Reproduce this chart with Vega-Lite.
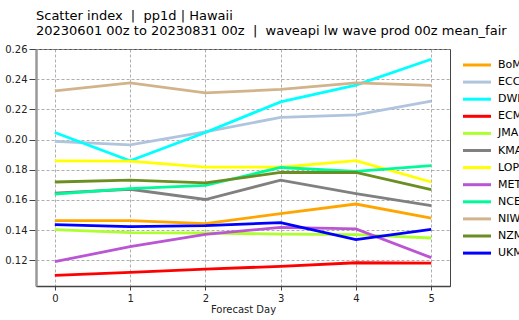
{
  "$schema": "https://vega.github.io/schema/vega-lite/v6.json",
  "autosize": {"type": "none"},
  "padding": {"left": 36, "top": 49, "right": 69, "bottom": 34},
  "width": 414,
  "height": 237,
  "background": "white",
  "title": {
    "text": ["Scatter index \u00a0|\u00a0 pp1d | Hawaii", "20230601 00z to 20230831 00z \u00a0|\u00a0 waveapi lw wave prod 00z mean_fair"],
    "anchor": "start",
    "frame": "group",
    "font": "DejaVu Sans",
    "fontSize": 13,
    "fontWeight": "normal",
    "color": "black",
    "lineHeight": 15,
    "offset": 6
  },
  "config": {
    "view": {"stroke": "#444", "strokeWidth": 1},
    "axis": {
      "labelFont": "DejaVu Sans",
      "titleFont": "DejaVu Sans",
      "labelFontSize": 10,
      "titleFontSize": 10,
      "labelColor": "#222",
      "titleColor": "#222",
      "titleFontWeight": "normal",
      "grid": true,
      "gridColor": "#999",
      "gridDash": [3, 2],
      "gridWidth": 0.8,
      "tickColor": "#444",
      "domainColor": "#444"
    }
  },
  "data": {
    "values": [
      {"model": "BoM", "day": 0, "si": 0.1463}, {"model": "BoM", "day": 1, "si": 0.1463}, {"model": "BoM", "day": 2, "si": 0.1443}, {"model": "BoM", "day": 3, "si": 0.151}, {"model": "BoM", "day": 4, "si": 0.1573}, {"model": "BoM", "day": 5, "si": 0.148},
      {"model": "ECCC", "day": 0, "si": 0.1988}, {"model": "ECCC", "day": 1, "si": 0.1965}, {"model": "ECCC", "day": 2, "si": 0.2051}, {"model": "ECCC", "day": 3, "si": 0.2147}, {"model": "ECCC", "day": 4, "si": 0.2164}, {"model": "ECCC", "day": 5, "si": 0.2255},
      {"model": "DWD", "day": 0, "si": 0.2047}, {"model": "DWD", "day": 1, "si": 0.1859}, {"model": "DWD", "day": 2, "si": 0.2047}, {"model": "DWD", "day": 3, "si": 0.225}, {"model": "DWD", "day": 4, "si": 0.2361}, {"model": "DWD", "day": 5, "si": 0.2532},
      {"model": "ECMWF", "day": 0, "si": 0.110}, {"model": "ECMWF", "day": 1, "si": 0.112}, {"model": "ECMWF", "day": 2, "si": 0.1142}, {"model": "ECMWF", "day": 3, "si": 0.116}, {"model": "ECMWF", "day": 4, "si": 0.1184}, {"model": "ECMWF", "day": 5, "si": 0.1182},
      {"model": "JMA", "day": 0, "si": 0.1403}, {"model": "JMA", "day": 1, "si": 0.1383}, {"model": "JMA", "day": 2, "si": 0.1381}, {"model": "JMA", "day": 3, "si": 0.1374}, {"model": "JMA", "day": 4, "si": 0.137}, {"model": "JMA", "day": 5, "si": 0.1348},
      {"model": "KMA", "day": 0, "si": 0.1645}, {"model": "KMA", "day": 1, "si": 0.1671}, {"model": "KMA", "day": 2, "si": 0.1603}, {"model": "KMA", "day": 3, "si": 0.1731}, {"model": "KMA", "day": 4, "si": 0.1642}, {"model": "KMA", "day": 5, "si": 0.1563},
      {"model": "LOPS", "day": 0, "si": 0.1859}, {"model": "LOPS", "day": 1, "si": 0.1857}, {"model": "LOPS", "day": 2, "si": 0.1817}, {"model": "LOPS", "day": 3, "si": 0.1818}, {"model": "LOPS", "day": 4, "si": 0.1861}, {"model": "LOPS", "day": 5, "si": 0.1719},
      {"model": "METFR", "day": 0, "si": 0.1191}, {"model": "METFR", "day": 1, "si": 0.1291}, {"model": "METFR", "day": 2, "si": 0.1372}, {"model": "METFR", "day": 3, "si": 0.1419}, {"model": "METFR", "day": 4, "si": 0.1408}, {"model": "METFR", "day": 5, "si": 0.1218},
      {"model": "NCEP", "day": 0, "si": 0.1638}, {"model": "NCEP", "day": 1, "si": 0.1675}, {"model": "NCEP", "day": 2, "si": 0.1697}, {"model": "NCEP", "day": 3, "si": 0.1815}, {"model": "NCEP", "day": 4, "si": 0.179}, {"model": "NCEP", "day": 5, "si": 0.1828},
      {"model": "NIWA", "day": 0, "si": 0.2323}, {"model": "NIWA", "day": 1, "si": 0.2376}, {"model": "NIWA", "day": 2, "si": 0.231}, {"model": "NIWA", "day": 3, "si": 0.2332}, {"model": "NIWA", "day": 4, "si": 0.2376}, {"model": "NIWA", "day": 5, "si": 0.2359},
      {"model": "NZMS", "day": 0, "si": 0.1719}, {"model": "NZMS", "day": 1, "si": 0.1731}, {"model": "NZMS", "day": 2, "si": 0.1713}, {"model": "NZMS", "day": 3, "si": 0.1782}, {"model": "NZMS", "day": 4, "si": 0.1782}, {"model": "NZMS", "day": 5, "si": 0.1669},
      {"model": "UKMO", "day": 0, "si": 0.1437}, {"model": "UKMO", "day": 1, "si": 0.1423}, {"model": "UKMO", "day": 2, "si": 0.143}, {"model": "UKMO", "day": 3, "si": 0.145}, {"model": "UKMO", "day": 4, "si": 0.1337}, {"model": "UKMO", "day": 5, "si": 0.1405}
    ]
  },
  "mark": {"type": "line", "strokeWidth": 2.8, "clip": true},
  "encoding": {
    "x": {
      "field": "day", "type": "quantitative", "title": "Forecast Day",
      "scale": {"domain": [-0.25, 5.25], "nice": false, "zero": false},
      "axis": {"values": [0, 1, 2, 3, 4, 5], "format": "d", "tickSize": 4, "labelPadding": 3, "titleY": 18, "domainWidth": 1.5}
    },
    "y": {
      "field": "si", "type": "quantitative", "title": null,
      "scale": {"domain": [0.103, 0.26], "nice": false, "zero": false},
      "axis": {"values": [0.12, 0.14, 0.16, 0.18, 0.2, 0.22, 0.24, 0.26], "format": ".2f", "tickSize": 7, "labelPadding": 2, "domainColor": "#999", "domainWidth": 2.5}
    },
    "color": {
      "field": "model", "type": "nominal", "title": null,
      "scale": {
        "domain": ["BoM", "ECCC", "DWD", "ECMWF", "JMA", "KMA", "LOPS", "METFR", "NCEP", "NIWA", "NZMS", "UKMO"],
        "range": ["#FFA500", "#B0C4DE", "#00FFFF", "#FF0000", "#ADFF2F", "#808080", "#FFFF00", "#BA55D3", "#00FA9A", "#D2B48C", "#6B8E23", "#0000FF"]
      },
      "legend": {
        "orient": "none",
        "legendX": 431,
        "legendY": 6,
        "symbolType": "M-1.65,0L1.65,0",
        "symbolSize": 289,
        "symbolStrokeWidth": 3,
        "labelFont": "DejaVu Sans",
        "labelFontSize": 11,
        "labelColor": "black",
        "labelOffset": 11,
        "rowPadding": 1.1,
        "labelLimit": 200
      }
    },
    "order": {"field": "day", "type": "quantitative"}
  }
}
